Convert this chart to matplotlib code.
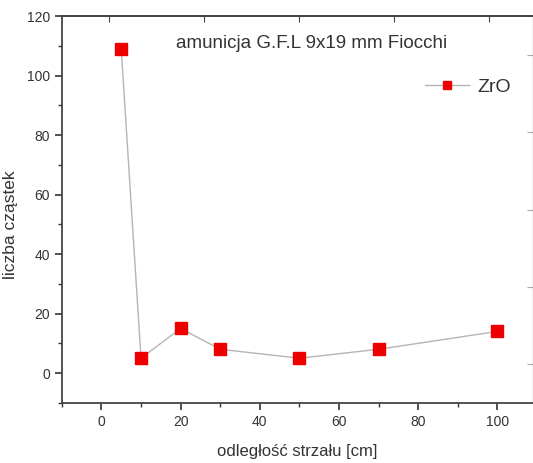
import matplotlib.pyplot as plt

plt.rcParams['font.family'] = ['Liberation Sans', 'DejaVu Sans']

# data
distance = [5, 10, 20, 30, 50, 70, 100]
particles = [109, 5, 15, 8, 5, 8, 14]
series_name = "ZrO"
title = "amunicja G.F.L 9x19 mm Fiocchi"

txt = "#333333"

fig = plt.figure(figsize=(5.33, 4.63), dpi=100)
ax = fig.add_axes([0.116, 0.130, 0.884, 0.835])

ax.plot(distance, particles, color="#b5b5b5", lw=1.0, marker="s",
        markersize=8, markerfacecolor="#ee0000", markeredgecolor="#ee0000",
        label=series_name)

ax.set_xlim(-10, 109)
ax.set_ylim(-10, 120)
ax.set_xticks(range(0, 101, 20))
ax.set_xticks(range(-10, 110, 10), minor=True)
ax.set_yticks(range(0, 121, 20))
ax.set_yticks(range(-10, 121, 10), minor=True)

ax.tick_params(which="both", direction="out", colors="#333333", labelsize=10)
ax.tick_params(which="major", length=5, width=1.2)
ax.tick_params(which="minor", length=3, width=1.0)
ax.tick_params(top=False, right=False)

for s in ax.spines.values():
    s.set_color("#444444")
    s.set_linewidth(1.3)
ax.spines["right"].set_linewidth(0.6)

# mirrored top/right ticks (inward, unlabeled)
top = ax.secondary_xaxis("top")
top.set_xticks([2, 26, 50, 74, 98])
top.tick_params(direction="in", length=4, labeltop=False, colors="#444444")
top.spines["top"].set_color("#444444")
top.spines["top"].set_linewidth(1.3)
right = ax.secondary_yaxis("right")
right.set_yticks([3, 29, 55, 81, 107])
right.tick_params(direction="in", length=4, labelright=False, colors="#aaaaaa")

ax.set_xlabel("odległość strzału [cm]", fontsize=12, color=txt, labelpad=11)
ax.set_ylabel("liczba cząstek", fontsize=12.5, color=txt)
ax.yaxis.set_label_coords(-0.093, 0.46)

ax.text(0.53, 0.93, title, transform=ax.transAxes, ha="center", va="center",
        fontsize=13.5, color=txt)

leg = ax.legend(loc="upper right", bbox_to_anchor=(0.99, 0.885), frameon=False,
                fontsize=14, handlelength=2.3, handletextpad=0.4, markerscale=0.7)
for t in leg.get_texts():
    t.set_color(txt)

fig.savefig("out.png", dpi=100)
